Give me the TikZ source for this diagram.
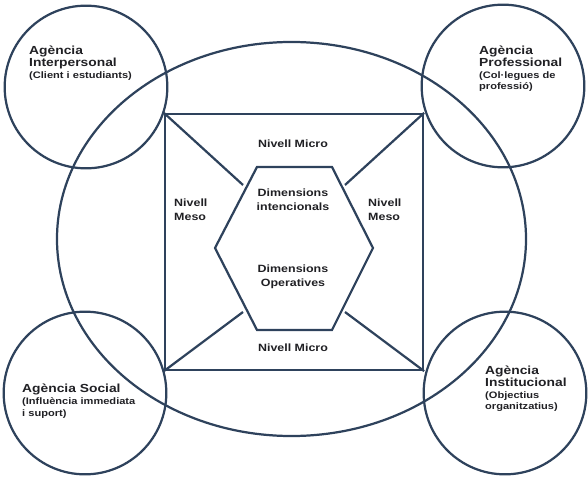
\documentclass[tikz,border=0pt]{standalone}
\usepackage{fontspec}
\setmainfont{Liberation Sans}[FakeStretch=1.18]
\usepackage{tikz}
\usetikzlibrary{positioning,shapes.geometric}
\definecolor{agblue}{RGB}{46,66,92}
\definecolor{agink}{RGB}{32,32,36}
\newcommand{\agTitle}{\fontsize{10}{10}\selectfont\bfseries}
\newcommand{\agSub}{\fontsize{8}{10}\selectfont\bfseries}
\newcommand{\lvFont}{\fontsize{9}{12}\selectfont\bfseries}

\begin{document}
\begin{tikzpicture}[x=0.03cm, y=-0.03cm,
			agency/.style={circle, draw=agblue, line width=1.9pt, minimum size=4.88cm, inner sep=0pt},
			outer/.style={ellipse, draw=agblue, line width=1.9pt, minimum width=14.07cm, minimum height=11.82cm, inner sep=0pt},
			frame/.style={rectangle, draw=agblue, line width=1.9pt, minimum width=7.74cm, minimum height=7.68cm, inner sep=0pt},
			desc/.style={text=agink, align=left, anchor=north west, inner sep=0pt, font=\agTitle},
			level/.style={text=agink, align=center, inner sep=0pt, font=\lvFont},
			link/.style={draw=agblue, line width=1.9pt}
		]
		\useasboundingbox (0,0) rectangle (588,480);
		\node[outer] (ctx) at (291.5,239) {};
		\node[agency] (ti) at (86,87) {};
		\node[agency] (tp) at (503,86) {};
		\node[agency] (ts) at (85,393) {};
		\node[agency] (tn) at (505,393) {};
		\node[frame] (sq) at (294,242) {};

		% hexagon
		\coordinate (h1) at (257,167);
		\coordinate (h2) at (332,167);
		\coordinate (h3) at (373,248);
		\coordinate (h4) at (332,330);
		\coordinate (h5) at (257,330);
		\coordinate (h6) at (215,248);
		\draw[link] (h1) -- (h2) -- (h3) -- (h4) -- (h5) -- (h6) -- cycle;

		% diagonals
		\coordinate (d1) at (243,185);
		\coordinate (d2) at (345,185);
		\coordinate (d3) at (345,312);
		\coordinate (d4) at (243,312);
		\draw[link] (sq.north west) -- (d1);
		\draw[link] (sq.north east) -- (d2);
		\draw[link] (sq.south east) -- (d3);
		\draw[link] (sq.south west) -- (d4);

		\node[desc] (tiT) at (29,46) {Agència\\Interpersonal\\\agSub (Client i estudiants)};
		\node[desc] (tpT) at (479,46) {Agència\\Professional\\\agSub (Col·legues de\\\agSub professió)};
		\node[desc] (tsT) at (22,384) {Agència Social\\\agSub (Influència immediata\\\agSub i suport)};
		\node[desc] (tnT) at (485,366) {Agència\\Institucional\\\agSub (Objectius\\\agSub organitzatius)};

		\node[level] (mcT) at (293,144) {Nivell Micro};
		\node[level] (mcB) at (293,348) {Nivell Micro};
		\node[level, align=left, anchor=west] (msL) at (174,210) {Nivell\\Meso};
		\node[level, align=left, anchor=west] (msR) at (368,210) {Nivell\\Meso};
		\node[level] (dimI) at (293,200) {Dimensions\\intencionals};
		\node[level] (dimO) at (293,277) {Dimensions\\Operatives};
		\end{tikzpicture}
\end{document}
